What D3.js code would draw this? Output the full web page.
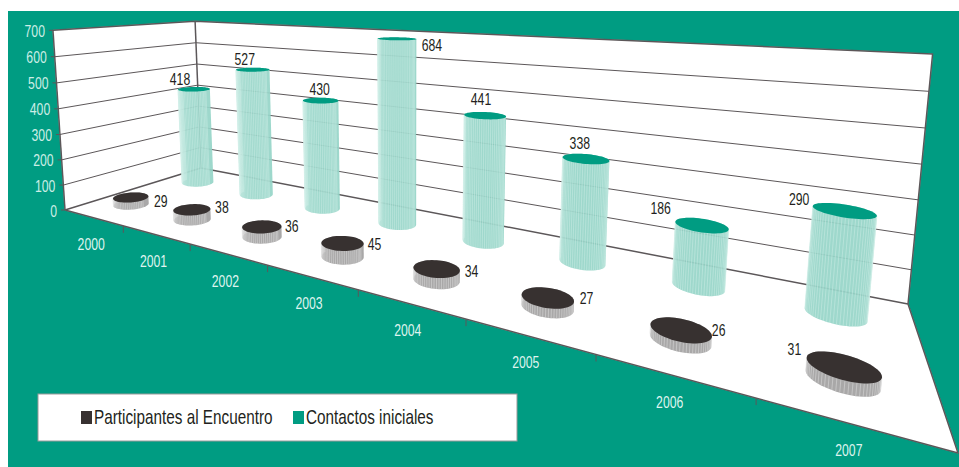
<!DOCTYPE html>
<html lang="es">
<head>
<meta charset="utf-8">
<title>Participantes y contactos</title>
<script src="https://cdn.jsdelivr.net/npm/d3@7/dist/d3.min.js"></script>
<style>
html,body{margin:0;padding:0;background:#fff;}
svg{display:block;}
text{font-family:"Liberation Sans",Arial,sans-serif;}
</style>
</head>
<body>
<svg id="chart" width="959" height="467"></svg>
<script>
// Series read per year
const years = ["2000","2001","2002","2003","2004","2005","2006","2007"];
const participantes = [29,38,36,45,34,27,26,31];
const contactos = [418,527,430,684,441,338,186,290];
const valueTicks = [0,100,200,300,400,500,600,700];
const seriesNames = ["Participantes al Encuentro","Contactos iniciales"];

// Value-label offsets from the centre of each cylinder's top, in pixels
const participantesLabelOffset = [[30,4],[30,-3],[30,-1],[32,1],[35,2],[39,0],[38,0],[-49,-18]];
const contactosLabelOffset = [[-14,-10],[-8,-11],[-1,-12],[35,6],[-4,-17],[-6,-16],[-41,-17],[-45,-12]];

const TEAL = "#009c82", DARK = "#373130", EDGE = "#5c5759", PALE = "#96d5c8", GREY = "#a9a8a8";
const NARROW = 0.72;

// Floor corners of the plot box: front-left, front-right, back-right, back-left
const floorQuad = [[65,210],[958,453],[908,304],[201,168]];
// Point where vertical edges converge, and the homogeneous weight of the full box height
const verticalVanish = [410,5363];
const heightWeight = -0.0337;

// Unit square to floor quadrilateral, kept as homogeneous coefficients
function squareToQuad(q){
  const [[x0,y0],[x1,y1],[x2,y2],[x3,y3]] = q;
  const dx1=x1-x2, dx2=x3-x2, sx=x0-x1+x2-x3;
  const dy1=y1-y2, dy2=y3-y2, sy=y0-y1+y2-y3;
  const den=dx1*dy2-dx2*dy1;
  const g=(sx*dy2-dx2*sy)/den, h=(dx1*sy-sx*dy1)/den;
  const a=x1-x0+g*x1, b=x3-x0+h*x3, c=x0;
  const d=y1-y0+g*y1, e=y3-y0+h*y3, f=y0;
  return {a,b,c,d,e,f,g,h};
}
const H = squareToQuad(floorQuad);

const level = d3.scaleLinear().domain([0,700]).range([0,1]);
const uScale = d3.scaleBand().domain(years).range([0,1]);
const vScale = d3.scalePoint().domain(seriesNames).range([0,1]).padding(0.5);

// Perspective projection of a box coordinate: u along the years, v into the depth, t up the height
function project(u,v,t){
  const w = H.g*u + H.h*v + 1 + heightWeight*t;
  return [
    (H.a*u + H.b*v + H.c + heightWeight*t*verticalVanish[0]) / w,
    (H.d*u + H.e*v + H.f + heightWeight*t*verticalVanish[1]) / w
  ];
}

const svg = d3.select("#chart");
const line = d3.line();

// Condensed lettering: horizontal squeeze around the anchor point
function placeText(sel,x,y,sx){
  return sel.attr("transform",`translate(${x},${y}) scale(${sx},1)`);
}

svg.append("rect").attr("x",8).attr("y",11).attr("width",951).attr("height",456).attr("fill",TEAL);

// Walls and floor
const walls = [
  [[0,0,0],[0,1,0],[0,1,1],[0,0,1]],
  [[0,1,0],[1,1,0],[1,1,1],[0,1,1]],
  [[0,0,0],[1,0,0],[1,1,0],[0,1,0]]
];
svg.append("g").selectAll("path").data(walls).join("path")
  .attr("d",w=>line(w.map(p=>project(...p)))+"Z")
  .attr("fill","#fff").attr("stroke","#fff").attr("stroke-width",0.5);

// Grid lines along both walls
const gridG = svg.append("g").attr("fill","none").attr("stroke",EDGE);
valueTicks.slice(1,-1).forEach(d=>{
  const t=level(d);
  gridG.append("path").attr("stroke-width",1)
    .attr("d",line([project(0,0,t),project(0,1,t),project(1,1,t)]));
});

// Box outline
const outline = [
  [[0,0,1],[0,0,0]],
  [[0,0,1],[0,1,1],[1,1,1],[1,1,0]],
  [[0,1,1],[0,1,0]],
  [[0,0,0],[0,1,0],[1,1,0],[1,0,0],[0,0,0]]
];
gridG.selectAll("path.box").data(outline).join("path").attr("class","box")
  .attr("stroke-width",1.5).attr("stroke-linejoin","round")
  .attr("d",s=>line(s.map(p=>project(...p))));

// Value axis ticks and labels on the front-left edge
const yAxisG = svg.append("g");
valueTicks.forEach(d=>{
  const p=project(0,0,level(d));
  yAxisG.append("line").attr("x1",p[0]-4).attr("x2",p[0]).attr("y1",p[1]).attr("y2",p[1])
    .attr("stroke",EDGE).attr("stroke-width",1);
  placeText(yAxisG.append("text"),p[0]-8,p[1]+6.5,NARROW).attr("text-anchor","end")
    .attr("font-size",17).attr("fill","#cdeee6").text(d);
});

// Year ticks and labels under the front edge
const xAxisG = svg.append("g");
d3.range(1,years.length).forEach(i=>{
  const p=project(i/years.length,0,0);
  xAxisG.append("line").attr("x1",p[0]).attr("x2",p[0]).attr("y1",p[1]).attr("y2",p[1]+7)
    .attr("stroke",EDGE).attr("stroke-width",1);
});
years.forEach(y=>{
  const p=project(uScale(y)+uScale.bandwidth()/2,0,0);
  placeText(xAxisG.append("text"),p[0]-2,p[1]+32.5,NARROW).attr("text-anchor","middle")
    .attr("font-size",17).attr("fill","#dff4ef").text(y);
});

// Cylinders: side as the hull of both end circles, with ribbed stripes, then the lid
const RU = 0.026, RV = 0.088, BAND_SHIFT = -0.0025;
const thetas = d3.range(0,360,6).map(a=>a*Math.PI/180);
function cylinder(g,year,seriesName,value,side,stripe,lid,opacity){
  const uc=uScale(year)+uScale.bandwidth()/2+BAND_SHIFT, vc=vScale(seriesName), t=level(value);
  const ring=h=>thetas.map(a=>project(uc+RU*Math.cos(a),vc+RV*Math.sin(a),h));
  const bottom=ring(0), top=ring(t);
  g.append("path").attr("d",line(d3.polygonHull(bottom.concat(top)))+"Z")
    .attr("fill",side).attr("fill-opacity",opacity);
  thetas.forEach((a,i)=>{
    if(Math.sin(a)>0.05) return;
    g.append("line").attr("x1",bottom[i][0]).attr("y1",bottom[i][1])
      .attr("x2",top[i][0]).attr("y2",top[i][1])
      .attr("stroke",stripe).attr("stroke-width",0.7).attr("stroke-opacity",0.65);
  });
  g.append("path").attr("d",line(top)+"Z").attr("fill",lid);
  return project(uc,vc,t);
}

const cylG = svg.append("g");
const labelG = svg.append("g").attr("font-size",17).attr("fill","#231f20").attr("text-anchor","middle");
function drawSeries(values,name,side,stripe,lid,opacity,offsets){
  years.forEach((y,i)=>{
    const c=cylinder(cylG,y,name,values[i],side,stripe,lid,opacity);
    placeText(labelG.append("text"),c[0]+offsets[i][0],c[1]+offsets[i][1]+6,NARROW).text(values[i]);
  });
}
drawSeries(contactos,seriesNames[1],PALE,"#d2f0e9",TEAL,0.92,contactosLabelOffset);
drawSeries(participantes,seriesNames[0],GREY,"#e4e4e4",DARK,1,participantesLabelOffset);

// Legend
const legend = svg.append("g");
legend.append("rect").attr("x",38).attr("y",394).attr("width",479).attr("height",47)
  .attr("fill","#fff").attr("stroke","#9a9a9a").attr("stroke-width",1);
const legendItems = [
  {name:seriesNames[0],color:DARK,sx:81,tx:94},
  {name:seriesNames[1],color:TEAL,sx:293,tx:306}
];
legend.selectAll("rect.sw").data(legendItems).join("rect").attr("class","sw")
  .attr("x",d=>d.sx).attr("y",411).attr("width",11).attr("height",13).attr("fill",d=>d.color);
legendItems.forEach(d=>{
  placeText(legend.append("text"),d.tx,424,0.765).attr("font-size",20).attr("fill","#231f20").text(d.name);
});
</script>
</body>
</html>
